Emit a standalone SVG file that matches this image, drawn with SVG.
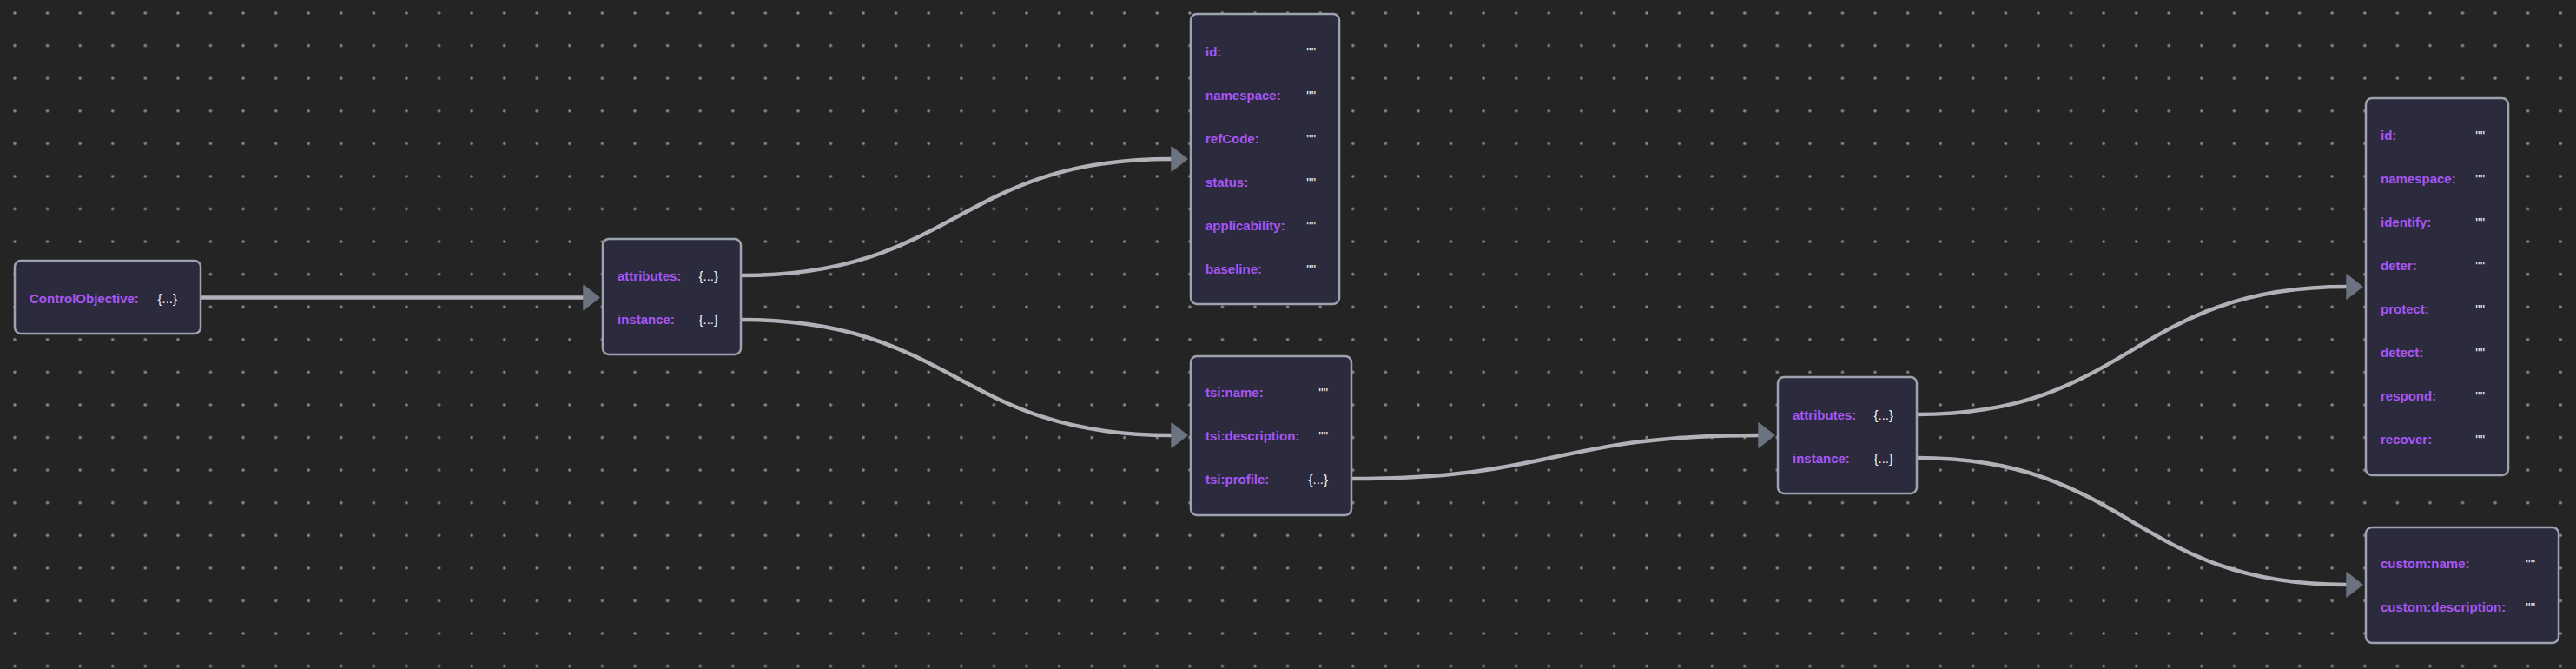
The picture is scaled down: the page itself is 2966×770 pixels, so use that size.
<svg xmlns="http://www.w3.org/2000/svg" width="2966" height="770" viewBox="0 0 2966 770">
<style>
.node rect{fill:#2b2b3d;stroke:#9ca3af;stroke-width:2.5}
.k{font-family:"Liberation Sans",Arial,sans-serif;font-size:15px;font-weight:bold;fill:#a855f7}
.v{font-family:"Liberation Sans",Arial,sans-serif;font-size:15px;fill:#f5f5f5;text-anchor:end}
.edge{fill:none;stroke:#b1b1b7;stroke-width:4.5;marker-end:url(#arrow)}
</style>
<defs>
<pattern id="dots" x="-1.79" y="-3.79" width="37.58" height="37.58" patternUnits="userSpaceOnUse">
<circle cx="18.79" cy="18.79" r="1.8" fill="#8a8a8a"/>
</pattern>
<marker id="arrow" markerUnits="userSpaceOnUse" markerWidth="20" markerHeight="30" refX="0" refY="14" orient="auto" overflow="visible">
<path d="M0,0 L18,14 L0,28 z" fill="#6b7280" stroke="#6b7280" stroke-width="1.5" stroke-linejoin="round"/>
</marker>
</defs>
<rect width="2966" height="770" fill="#242424"/>
<rect width="2966" height="770" fill="url(#dots)"/>

<g id="edges">
<path class="edge" d="M231,342.5 L672,342.5"/>
<path class="edge" d="M853,317 C1101,317 1101,183 1349,183"/>
<path class="edge" d="M853,368 C1101,368 1101,501 1349,501"/>
<path class="edge" d="M1556,551 C1790,551 1790,501 2025,501"/>
<path class="edge" d="M2207,477 C2454,477 2454,330 2702,330"/>
<path class="edge" d="M2207,527 C2454,527 2454,673 2702,673"/>
</g>

<g id="n1" class="node">
<rect x="17" y="300" width="214" height="84" rx="7"/>
<text class="k" x="34" y="349">ControlObjective:</text>
<text class="v" x="204" y="349">{...}</text>
</g>

<g id="n2" class="node">
<rect x="694" y="275" width="159" height="133" rx="7"/>
<text class="k" x="711" y="323">attributes:</text>
<text class="v" x="827" y="323">{...}</text>
<text class="k" x="711" y="373">instance:</text>
<text class="v" x="827" y="373">{...}</text>
</g>

<g id="n3" class="node">
<rect x="1371" y="16" width="171" height="334" rx="7"/>
<text class="k" x="1388" y="65">id:</text>
<text class="v" x="1515" y="65">""</text>
<text class="k" x="1388" y="115">namespace:</text>
<text class="v" x="1515" y="115">""</text>
<text class="k" x="1388" y="165">refCode:</text>
<text class="v" x="1515" y="165">""</text>
<text class="k" x="1388" y="215">status:</text>
<text class="v" x="1515" y="215">""</text>
<text class="k" x="1388" y="265">applicability:</text>
<text class="v" x="1515" y="265">""</text>
<text class="k" x="1388" y="315">baseline:</text>
<text class="v" x="1515" y="315">""</text>
</g>

<g id="n4" class="node">
<rect x="1371" y="410" width="185" height="183" rx="7"/>
<text class="k" x="1388" y="457">tsi:name:</text>
<text class="v" x="1529" y="457">""</text>
<text class="k" x="1388" y="507">tsi:description:</text>
<text class="v" x="1529" y="507">""</text>
<text class="k" x="1388" y="557">tsi:profile:</text>
<text class="v" x="1529" y="557">{...}</text>
</g>

<g id="n5" class="node">
<rect x="2047" y="434" width="160" height="134" rx="7"/>
<text class="k" x="2064" y="483">attributes:</text>
<text class="v" x="2180" y="483">{...}</text>
<text class="k" x="2064" y="533">instance:</text>
<text class="v" x="2180" y="533">{...}</text>
</g>

<g id="n6" class="node">
<rect x="2724" y="113" width="164" height="434" rx="7"/>
<text class="k" x="2741" y="161">id:</text>
<text class="v" x="2861" y="161">""</text>
<text class="k" x="2741" y="211">namespace:</text>
<text class="v" x="2861" y="211">""</text>
<text class="k" x="2741" y="261">identify:</text>
<text class="v" x="2861" y="261">""</text>
<text class="k" x="2741" y="311">deter:</text>
<text class="v" x="2861" y="311">""</text>
<text class="k" x="2741" y="361">protect:</text>
<text class="v" x="2861" y="361">""</text>
<text class="k" x="2741" y="411">detect:</text>
<text class="v" x="2861" y="411">""</text>
<text class="k" x="2741" y="461">respond:</text>
<text class="v" x="2861" y="461">""</text>
<text class="k" x="2741" y="511">recover:</text>
<text class="v" x="2861" y="511">""</text>
</g>

<g id="n7" class="node">
<rect x="2724" y="607" width="222" height="133" rx="7"/>
<text class="k" x="2741" y="654">custom:name:</text>
<text class="v" x="2919" y="654">""</text>
<text class="k" x="2741" y="704">custom:description:</text>
<text class="v" x="2919" y="704">""</text>
</g>
</svg>
